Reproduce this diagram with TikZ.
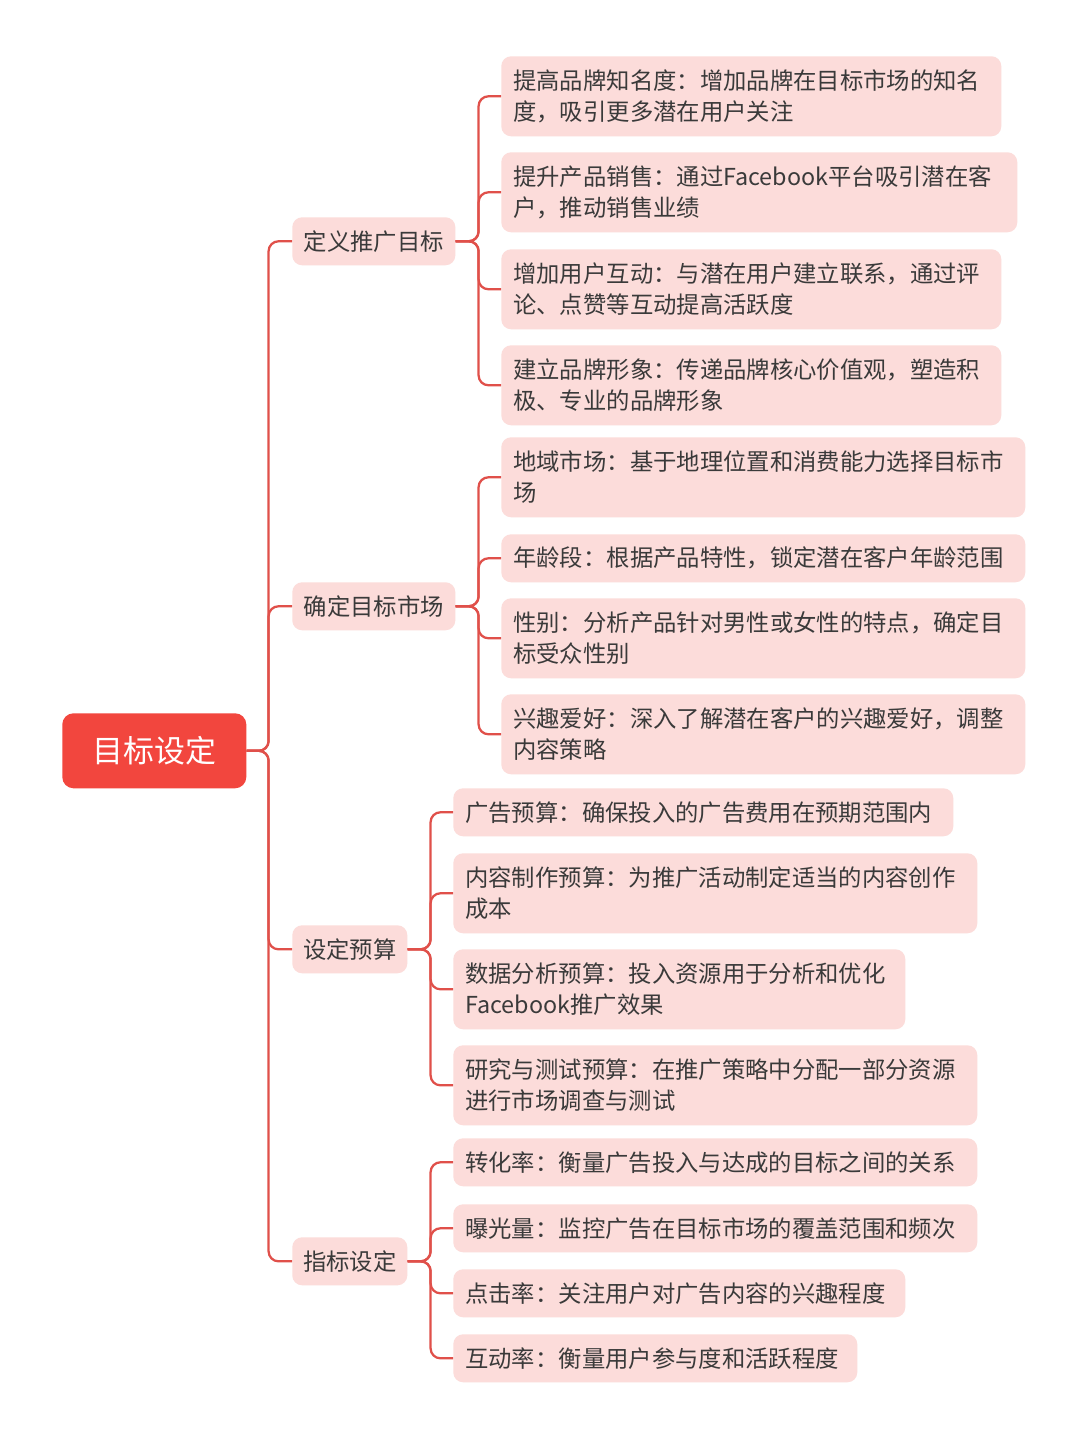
\documentclass[tikz,border=0pt]{standalone}
\usepackage{fontspec}
\setmainfont{Noto Sans CJK SC}
\definecolor{rootred}{HTML}{F2463E}
\definecolor{leafpink}{HTML}{FCDCDA}
\definecolor{linkred}{HTML}{E0504A}
\definecolor{txtgray}{HTML}{3A3A3A}
\tikzset{
	rootbox/.style={fill=rootred,rounded corners=8pt,text=white,font=\fontsize{22}{26}\selectfont,inner sep=0pt},
	topicbox/.style={fill=leafpink,rounded corners=7pt,text=txtgray,font=\fontsize{16.6}{22}\selectfont,inner sep=0pt},
	leafbox/.style={fill=leafpink,rounded corners=7pt,text=txtgray,font=\fontsize{16.6}{22}\selectfont,align=left,inner xsep=0.3cm,inner ysep=0pt},
	link/.style={draw=linkred,line width=1.6pt,rounded corners=7pt}
}
% leaf: name, x1, y1, x2, y2, text (pixel units)
\newcommand{\leafnode}[6]{%
	\pgfmathsetmacro\lw{(#4-#2)*0.025-0.6}%
	\pgfmathsetmacro\lh{(#5-#3)*0.025}%
	\node[leafbox,anchor=north west,text width=\lw cm,minimum height=\lh cm] (#1) at (#2,#3) {#6};}
\begin{document}
\begin{tikzpicture}[x=0.025cm,y=-0.025cm]
	\useasboundingbox[fill=white] (0,0) rectangle (1080,1440);
	% root and topics
	\node[rootbox,anchor=north west,minimum width=4.6cm,minimum height=1.875cm] (root) at (62,713) {目标设定};
	\node[topicbox,anchor=north west,minimum width=4.075cm,minimum height=1.2cm] (define) at (292,217) {定义推广目标};
	\node[topicbox,anchor=north west,minimum width=4.075cm,minimum height=1.2cm] (market) at (292,582) {确定目标市场};
	\node[topicbox,anchor=north west,minimum width=2.875cm,minimum height=1.2cm] (budget) at (292,925) {设定预算};
	\node[topicbox,anchor=north west,minimum width=2.875cm,minimum height=1.2cm] (metric) at (292,1237) {指标设定};
	% leaves
	\leafnode{d1}{501}{56}{1001}{136}{提高品牌知名度：增加品牌在目标市场的知名\\度，吸引更多潜在用户关注}
	\leafnode{d2}{501}{152}{1017}{232}{提升产品销售：通过Facebook平台吸引潜在客\\户，推动销售业绩}
	\leafnode{d3}{501}{249}{1001}{329}{增加用户互动：与潜在用户建立联系，通过评\\论、点赞等互动提高活跃度}
	\leafnode{d4}{501}{345}{1001}{425}{建立品牌形象：传递品牌核心价值观，塑造积\\极、专业的品牌形象}
	\leafnode{m1}{501}{437}{1025}{517}{地域市场：基于地理位置和消费能力选择目标市\\场}
	\leafnode{m2}{501}{534}{1025}{582}{年龄段：根据产品特性，锁定潜在客户年龄范围}
	\leafnode{m3}{501}{598}{1025}{678}{性别：分析产品针对男性或女性的特点，确定目\\标受众性别}
	\leafnode{m4}{501}{694}{1025}{774}{兴趣爱好：深入了解潜在客户的兴趣爱好，调整\\内容策略}
	\leafnode{b1}{453}{788}{953}{836}{广告预算：确保投入的广告费用在预期范围内}
	\leafnode{b2}{453}{853}{977}{933}{内容制作预算：为推广活动制定适当的内容创作\\成本}
	\leafnode{b3}{453}{949}{905}{1029}{数据分析预算：投入资源用于分析和优化\\Facebook推广效果}
	\leafnode{b4}{453}{1045}{977}{1125}{研究与测试预算：在推广策略中分配一部分资源\\进行市场调查与测试}
	\leafnode{k1}{453}{1138}{977}{1186}{转化率：衡量广告投入与达成的目标之间的关系}
	\leafnode{k2}{453}{1204}{977}{1252}{曝光量：监控广告在目标市场的覆盖范围和频次}
	\leafnode{k3}{453}{1269}{905}{1317}{点击率：关注用户对广告内容的兴趣程度}
	\leafnode{k4}{453}{1334}{857}{1382}{互动率：衡量用户参与度和活跃程度}
	% connectors
	\foreach \t in {define,market,budget,metric}
	\draw[link] (root.east) -- ++(22,0) |- (\t.west);
	\foreach \c in {d1,d2,d3,d4}
	\draw[link] (define.east) -- ++(23,0) |- (\c.west);
	\foreach \c in {m1,m2,m3,m4}
	\draw[link] (market.east) -- ++(23,0) |- (\c.west);
	\foreach \c in {b1,b2,b3,b4}
	\draw[link] (budget.east) -- ++(23,0) |- (\c.west);
	\foreach \c in {k1,k2,k3,k4}
	\draw[link] (metric.east) -- ++(23,0) |- (\c.west);
\end{tikzpicture}
\end{document}
